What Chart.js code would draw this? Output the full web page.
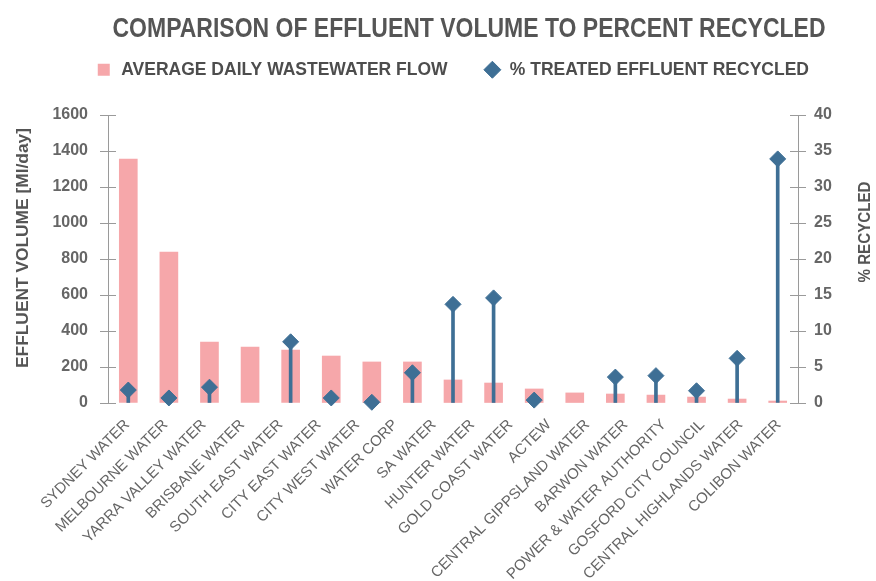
<!DOCTYPE html>
<html lang="en">
<head>
<meta charset="UTF-8">
<title>Comparison of effluent volume to percent recycled</title>
<script src="https://cdn.jsdelivr.net/npm/chart.js"></script>
<style>
  html, body { margin: 0; padding: 0; background: #fff; }
  #wrap { width: 876px; height: 581px; }
</style>
</head>
<body>
<div id="wrap"><canvas id="effluentChart" width="876" height="581"></canvas></div>
<script>
// names printed under the chart (18 of them, as in the picture)
const siteLabels = [
  'SYDNEY WATER', 'MELBOURNE WATER', 'YARRA VALLEY WATER', 'BRISBANE WATER',
  'SOUTH EAST WATER', 'CITY EAST WATER', 'CITY WEST WATER', 'WATER CORP',
  'SA WATER', 'HUNTER WATER', 'GOLD COAST WATER', 'ACTEW',
  'CENTRAL GIPPSLAND WATER', 'BARWON WATER', 'POWER & WATER AUTHORITY',
  'GOSFORD CITY COUNCIL', 'CENTRAL HIGHLANDS WATER', 'COLIBON WATER'
];

// average daily wastewater flow, Ml/day (17 bars are drawn)
const flowValues = [1355, 839, 339, 311, 294, 261, 228, 228, 128, 111, 78, 56, 50, 44, 33, 22, 11];

// % treated effluent recycled, null = no marker
const recycledValues = [1.8, 0.7, 2.2, null, 8.5, 0.7, 0.1, 4.2, 13.7, 14.6, 0.4, null, 3.6, 3.8, 1.7, 6.2, 33.9];

// axis ticks
const volumeTicks = [0, 200, 400, 600, 800, 1000, 1200, 1400, 1600];
const percentTicks = [0, 5, 10, 15, 20, 25, 30, 35, 40];

const barSlots = flowValues.map((v, i) => String(i + 1));
const stemValues = recycledValues.map(v => v === null ? null : [0, v]);

const sans = "'Liberation Sans', Arial, sans-serif";
const axisGrey = '#9a9a9a';
const pink = '#f6a7aa';
const steel = '#3e6f95';

// draw text squeezed to a given width (the original uses a narrow face)
function narrowText(ctx, text, x, y, width, angle) {
  const w = ctx.measureText(text).width;
  ctx.save();
  ctx.translate(x, y);
  if (angle) ctx.rotate(angle);
  ctx.scale(width / w, 1);
  ctx.fillText(text, 0, 0);
  ctx.restore();
}

// title, axis titles and the inner half of the axis ticks
const decor = {
  id: 'decor',
  afterDraw(chart) {
    const ctx = chart.ctx;
    ctx.save();
    ctx.strokeStyle = axisGrey;
    ctx.lineWidth = 1;
    ['y', 'y2'].forEach(id => {
      const s = chart.scales[id];
      const x = id === 'y' ? chart.chartArea.left : chart.chartArea.right;
      const dir = id === 'y' ? 1 : -1;
      s.ticks.forEach(t => {
        const py = Math.round(s.getPixelForValue(t.value)) + 0.5;
        ctx.beginPath();
        ctx.moveTo(x, py);
        ctx.lineTo(x + dir * 8, py);
        ctx.stroke();
      });
    });

    ctx.fillStyle = '#555';
    ctx.textAlign = 'center';
    ctx.textBaseline = 'middle';
    ctx.font = 'bold 27px ' + sans;
    narrowText(ctx, 'COMPARISON OF EFFLUENT VOLUME TO PERCENT RECYCLED', 469, 30, 713, 0);

    ctx.font = 'bold 17px ' + sans;
    narrowText(ctx, 'EFFLUENT VOLUME [Ml/day]', 23, 248, 240, -Math.PI / 2);
    narrowText(ctx, '% RECYCLED', 865, 232, 101, -Math.PI / 2);
    ctx.restore();
  }
};

new Chart(document.getElementById('effluentChart'), {
  type: 'bar',
  data: {
    labels: barSlots,
    datasets: [
      {
        label: 'AVERAGE DAILY WASTEWATER FLOW',
        data: flowValues,
        xAxisID: 'xb',
        yAxisID: 'y',
        backgroundColor: pink,
        barThickness: 18,
        grouped: false,
        pointStyle: 'rect',
        order: 3
      },
      {
        label: '% TREATED EFFLUENT RECYCLED',
        data: stemValues,
        xAxisID: 'xb',
        yAxisID: 'y2',
        backgroundColor: steel,
        barThickness: 3,
        grouped: false,
        order: 2
      },
      {
        type: 'line',
        label: '% TREATED EFFLUENT RECYCLED',
        data: recycledValues,
        xAxisID: 'xb',
        yAxisID: 'y2',
        showLine: false,
        pointStyle: 'rectRot',
        pointRadius: 8,
        pointHoverRadius: 8,
        pointBorderWidth: 1,
        pointBackgroundColor: steel,
        pointBorderColor: steel,
        backgroundColor: steel,
        borderColor: steel,
        borderWidth: 1,
        clip: false,
        order: 1
      }
    ]
  },
  options: {
    responsive: false,
    animation: false,
    devicePixelRatio: 1,
    layout: { padding: { top: 25, left: 28, right: 0, bottom: 0 } },
    plugins: {
      tooltip: { enabled: false },
      legend: {
        position: 'top',
        labels: {
          usePointStyle: true,
          boxWidth: 18,
          boxHeight: 12,
          padding: 36,
          color: '#4d4d4d',
          font: { family: sans, size: 17.5, weight: 'bold' },
          filter: item => item.datasetIndex !== 1,
          sort: (a, b) => a.datasetIndex - b.datasetIndex
        }
      }
    },
    scales: {
      xb: {
        type: 'category',
        position: 'top',
        offset: true,
        grid: { display: false },
        border: { display: false },
        ticks: { display: false },
        afterFit(s) { s.height = 26.5; }
      },
      xl: {
        type: 'category',
        labels: siteLabels,
        position: 'bottom',
        offset: true,
        grid: { display: false },
        border: { display: false },
        ticks: {
          autoSkip: false,
          minRotation: 45,
          maxRotation: 45,
          padding: 5,
          color: '#666',
          font: { family: sans, size: 15 }
        },
        afterFit(s) { s.height = 178; }
      },
      y: {
        position: 'left',
        min: volumeTicks[0],
        max: volumeTicks[volumeTicks.length - 1],
        grid: { drawOnChartArea: false, tickLength: 8, color: axisGrey },
        border: { color: axisGrey },
        ticks: {
          stepSize: volumeTicks[1] - volumeTicks[0],
          format: { useGrouping: false },
          padding: 12,
          color: '#666',
          font: { family: sans, size: 16, weight: 'bold' }
        },
        afterFit(s) { s.width = 80; }
      },
      y2: {
        position: 'right',
        min: percentTicks[0],
        max: percentTicks[percentTicks.length - 1],
        grid: { drawOnChartArea: false, tickLength: 8, color: axisGrey },
        border: { color: axisGrey },
        ticks: {
          stepSize: percentTicks[1] - percentTicks[0],
          padding: 8,
          color: '#666',
          font: { family: sans, size: 16, weight: 'bold' }
        },
        afterFit(s) { s.width = 78; }
      }
    }
  },
  plugins: [decor]
});
</script>
</body>
</html>
